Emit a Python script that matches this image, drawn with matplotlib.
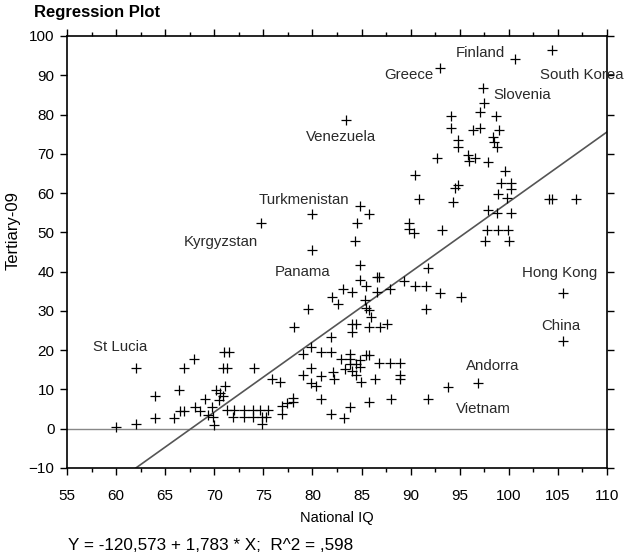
import numpy as np
import matplotlib
matplotlib.use("Agg")
import matplotlib.pyplot as plt

plt.rcParams['font.family'] = ['Liberation Sans', 'DejaVu Sans']

# national IQ vs tertiary enrolment 2009
iq = [
    60.0, 62.0, 62.0, 64.0, 64.0, 65.9, 66.4, 66.5, 66.9, 66.9, 67.9, 68.0, 68.5,
    69.1, 69.4, 69.8, 69.9, 70.0, 70.2, 70.5, 70.6, 71.1, 70.9, 71.0, 71.5, 70.9,
    71.3, 74.0,
    71.3, 72.0, 73.0, 73.9, 74.7, 75.5, 71.9, 73.0, 73.9, 74.9, 75.3, 74.9,
    75.9, 76.7, 76.9, 77.4, 78.0, 78.0, 76.9,
    78.1, 79.0, 79.9, 80.9, 81.9, 81.9, 84.0, 84.4, 84.0, 85.8, 86.9, 87.6,
    79.0, 79.9, 79.9, 80.4, 80.9, 80.9, 82.1, 82.2, 82.9, 83.8, 84.8, 83.8,
    83.8, 84.4, 84.8, 83.3, 84.0, 84.4, 84.9, 85.5, 85.8, 86.8, 87.9, 88.9,
    88.9, 88.9, 86.4,
    81.9, 83.2, 83.8, 85.8, 88.0, 91.8, 93.8, 96.9,
    74.8, 80.0, 80.0, 79.5,
    84.8, 85.8, 84.5, 84.3, 84.8, 84.8, 85.5, 86.6, 86.8, 86.6, 83.1, 84.0,
    82.0, 82.6, 85.4, 85.5, 85.8, 86.0, 87.9, 89.3, 90.4, 91.6, 91.8, 91.6,
    93.0, 95.1,
    89.8, 89.8, 90.3, 93.2, 90.9, 94.3, 94.5, 94.8, 97.9, 98.8, 100.2, 98.9,
    99.8, 99.2, 100.2, 100.2, 97.8, 98.9, 99.9, 97.6, 100.0, 104.1, 104.4, 106.8,
    90.4, 92.7, 99.6,
    94.1, 94.1, 94.8, 94.8, 95.8, 95.9, 96.6, 97.9, 96.4, 97.1, 97.1, 98.7,
    99.0, 98.4, 98.5, 98.8, 97.4, 97.5,
    93.0, 100.6, 104.4, 83.4,
    105.5, 105.5,
]
tertiary = [
    0.4, 1.3, 15.4, 8.3, 2.8, 2.8, 9.9, 4.6, 4.6, 15.4, 17.7, 5.6, 4.6,
    7.5, 3.5, 5.6, 3.1, 1.0, 9.9, 7.3, 9.0, 10.9, 8.3, 19.5, 19.5, 15.4,
    15.4, 15.4,
    4.7, 4.7, 4.7, 4.7, 4.7, 4.7, 3.0, 3.0, 3.0, 3.0, 3.0, 1.3,
    12.7, 11.8, 5.8, 6.5, 6.9, 7.7, 3.7,
    25.8, 19.0, 20.8, 19.6, 19.6, 23.4, 26.7, 26.7, 24.7, 25.9, 25.9, 26.7,
    13.6, 15.5, 11.6, 10.8, 13.5, 7.6, 14.5, 12.7, 17.8, 17.8, 17.6, 19.0,
    16.6, 16.6, 15.7, 15.2, 14.6, 13.7, 11.9, 18.8, 18.8, 16.8, 16.8, 16.8,
    13.7, 12.7, 12.7,
    3.7, 2.8, 5.6, 6.7, 7.6, 7.6, 10.7, 11.7,
    52.3, 54.7, 45.6, 30.5,
    56.6, 54.7, 52.4, 47.7, 41.7, 37.9, 36.4, 38.6, 38.6, 34.8, 35.6, 34.8,
    33.6, 31.8, 32.9, 30.8, 30.3, 28.5, 35.6, 37.7, 36.3, 36.3, 40.8, 30.5,
    34.6, 33.6,
    52.5, 50.8, 49.8, 50.6, 58.6, 57.7, 61.3, 62.1, 55.8, 55.0, 54.9, 59.7,
    58.7, 62.6, 62.6, 61.0, 50.6, 50.6, 50.6, 47.8, 47.8, 58.6, 58.6, 58.6,
    64.6, 68.9, 65.7,
    79.6, 76.6, 73.5, 71.7, 69.7, 68.2, 68.9, 68.0, 76.1, 76.6, 80.7, 79.6,
    76.1, 74.4, 73.1, 71.8, 86.7, 83.0,
    91.8, 94.1, 96.4, 78.6,
    34.6, 22.4,
]

countries = ["Finland", "Greece", "South Korea", "Slovenia", "Venezuela",
             "Turkmenistan", "Kyrgyzstan", "Panama", "Hong Kong", "China",
             "St Lucia", "Andorra", "Vietnam"]
# where each country name sits (left edge, vertical centre)
label_pos = [(94.6, 95.6), (87.3, 90.0), (103.2, 90.0), (98.4, 85.0),
             (79.3, 74.2), (74.5, 58.2), (66.9, 47.5), (76.2, 39.9),
             (101.3, 39.6), (103.3, 26.1), (57.7, 20.8), (95.6, 15.9),
             (94.6, 5.0)]

intercept = -120.573
slope = 1.783
r2 = 0.598

fig = plt.figure(figsize=(6.26, 5.58), dpi=100)
ax = fig.add_axes([0.107, 0.1613, 0.8626, 0.7742])

ax.plot(iq, tertiary, '+', color='black', markersize=7, markeredgewidth=0.9,
        clip_on=False, zorder=3)

xs = np.array([55, 110])
ax.plot(xs, intercept + slope * xs, color='#555555', lw=1.2, zorder=2)
ax.axhline(0, color='#888888', lw=1.0, zorder=1)

for name, (lx, ly) in zip(countries, label_pos):
    ax.text(lx, ly, name, fontsize=10.8, color='#2a2a2a', ha='left',
            va='center', clip_on=False, zorder=4)

ax.set_xlim(55, 110)
ax.set_ylim(-10, 100)
ax.set_xticks(np.arange(55, 111, 5))
ax.set_xticks(np.arange(57.5, 110, 5), minor=True)
ax.set_yticks(np.arange(-10, 101, 10))
ax.tick_params(axis='both', which='both', direction='out', top=True,
               right=True, labelsize=11, width=1)
ax.tick_params(axis='both', which='major', length=5)
ax.tick_params(axis='x', which='minor', length=3)
ax.tick_params(axis='x', which='major', pad=10)
ax.tick_params(axis='y', which='major', pad=4)
for s in ax.spines.values():
    s.set_linewidth(1.2)

ax.set_xlabel("National IQ", fontsize=10.5, labelpad=6)
ax.set_ylabel("Tertiary-09", fontsize=12)
ax.yaxis.set_label_coords(-0.085, 0.55)

fig.text(34 / 626, 1 - 13 / 558, "Regression Plot", fontsize=12,
         fontweight='bold', ha='left', va='center')
fig.text(68 / 626, 1 - 546 / 558,
         "Y = -120,573 + 1,783 * X;  R^2 = ,598", fontsize=12.3,
         ha='left', va='center')

fig.savefig("out.png", dpi=100)
